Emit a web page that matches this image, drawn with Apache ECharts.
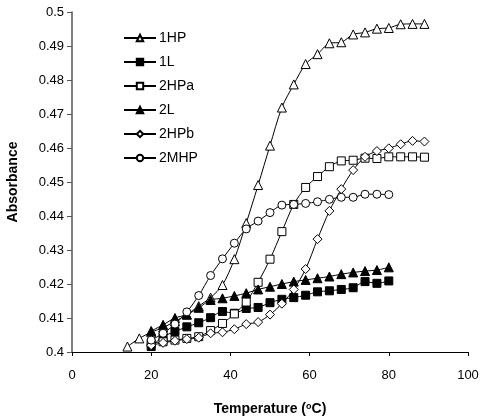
<!DOCTYPE html>
<html>
<head>
<meta charset="utf-8">
<script src="https://cdn.jsdelivr.net/npm/echarts@6/dist/echarts.min.js"></script>
<style>html,body{margin:0;padding:0;background:#fff}#c{width:482px;height:416px}</style>
</head>
<body>
<div id="c"></div>
<script>
// Temperatures (°C)
const temps1HP = [14,17,20,23,26,29,32,35,38,41,44,47,50,53,56,59,62,65,68,71,74,77,80,83,86,89];
const temps1L = [20,23,26,29,32,35,38,41,44,47,50,53,56,59,62,65,68,71,74,77,80];
const temps2HPa = [20,23,26,29,32,35,38,41,44,47,50,53,56,59,62,65,68,71,74,77,80,83,86,89];
const temps2L = [20,23,26,29,32,35,38,41,44,47,50,53,56,59,62,65,68,71,74,77,80];
const temps2HPb = [20,23,26,29,32,35,38,41,44,47,50,53,56,59,62,65,68,71,74,77,80,83,86,89];
const temps2MHP = [20,23,26,29,32,35,38,41,44,47,50,53,56,59,62,65,68,71,74,77,80];

// Absorbance values
const abs1HP = [0.4016,0.4040,0.4058,0.4072,0.4090,0.4110,0.4135,0.4160,0.4197,0.4273,0.4379,0.4491,0.4607,0.4719,0.4787,0.4847,0.4876,0.4908,0.4911,0.4934,0.4940,0.4951,0.4953,0.4964,0.4965,0.4965];
const abs1L = [0.4016,0.4045,0.4060,0.4074,0.4086,0.4101,0.4119,0.4114,0.4128,0.4131,0.4145,0.4155,0.4160,0.4167,0.4177,0.4180,0.4184,0.4189,0.4207,0.4202,0.4209];
const abs2HPa = [0.4025,0.4030,0.4035,0.4040,0.4045,0.4063,0.4084,0.4112,0.4147,0.4205,0.4273,0.4354,0.4434,0.4484,0.4516,0.4545,0.4562,0.4564,0.4570,0.4569,0.4574,0.4574,0.4574,0.4573];
const abs2L = [0.4062,0.4080,0.4100,0.4110,0.4130,0.4153,0.4158,0.4165,0.4173,0.4184,0.4192,0.4200,0.4207,0.4212,0.4217,0.4222,0.4229,0.4234,0.4238,0.4241,0.4249];
const abs2HPb = [0.4020,0.4027,0.4033,0.4038,0.4042,0.4055,0.4058,0.4067,0.4082,0.4088,0.4110,0.4142,0.4184,0.4244,0.4332,0.4415,0.4479,0.4535,0.4574,0.4591,0.4599,0.4611,0.4621,0.4619];
const abs2MHP = [0.4035,0.4055,0.4082,0.4118,0.4166,0.4225,0.4274,0.4320,0.4362,0.4385,0.4410,0.4432,0.4434,0.4437,0.4442,0.4449,0.4455,0.4455,0.4464,0.4464,0.4463];

const xTicks = [0,20,40,60,80,100];
const yTicks = [0.4,0.41,0.42,0.43,0.44,0.45,0.46,0.47,0.48,0.49,0.5];

function pairs(xs, ys){ return xs.map((x,i)=>[x, ys[i]]); }

const FONT = 'Liberation Sans';
function mk(name, xs, ys, symbol, filled){
  return {
    name: name, type: 'line', data: pairs(xs, ys),
    symbol: symbol, symbolSize: symbol === 'triangle' ? 9 : (symbol === 'diamond' ? 9 : 8),
    smooth: 0.3,
    lineStyle: {color: '#000', width: 1},
    itemStyle: {color: filled ? '#000' : '#fff', borderColor: '#000', borderWidth: 1},
    emphasis: {disabled: true},
    z: 2
  };
}

const chart = echarts.init(document.getElementById('c'), null, {renderer: 'canvas'});
chart.setOption({
  animation: false,
  backgroundColor: '#fff',
  textStyle: {fontFamily: FONT},
  grid: {left: 72, right: 14, top: 12, bottom: 64, containLabel: false, outerBoundsMode: 'none'},
  legend: {
    orient: 'vertical', left: 123, top: 30, padding: 0, itemWidth: 32, itemHeight: 8, itemGap: 8,
    textStyle: {fontFamily: FONT, fontSize: 14, color: '#000', padding: [0,0,0,-2], lineHeight: 16},
    data: ['1HP','1L','2HPa','2L','2HPb','2MHP']
  },
  xAxis: {
    type: 'value', min: 0, max: 100, interval: 20,
    name: 'Temperature ({s|o}C)', nameLocation: 'middle', nameGap: 50,
    nameTextStyle: {fontFamily: FONT, fontSize: 14, fontWeight: 'bold', color: '#000',
      rich: {s: {fontSize: 9, fontWeight: 'bold', verticalAlign: 'top', padding: [0,0,6,0], fontFamily: FONT}}},
    axisLine: {show: true, lineStyle: {color: '#000', width: 1}},
    axisTick: {show: true, length: 4, lineStyle: {color: '#000'}},
    axisLabel: {fontFamily: FONT, fontSize: 13, color: '#000', margin: 17},
    splitLine: {show: false}
  },
  yAxis: {
    type: 'value', min: 0.4, max: 0.5, interval: 0.01,
    name: 'Absorbance', nameLocation: 'middle', nameGap: 52, nameRotate: 90,
    nameTextStyle: {fontFamily: FONT, fontSize: 14, fontWeight: 'bold', color: '#000'},
    axisLine: {show: true, lineStyle: {color: '#555', width: 1.5}},
    axisTick: {show: true, length: 5, lineStyle: {color: '#555'}},
    axisLabel: {fontFamily: FONT, fontSize: 13, color: '#000', margin: 8,
      formatter: v => String(+v.toFixed(2))},
    splitLine: {show: false}
  },
  series: [
    mk('1HP', temps1HP, abs1HP, 'triangle', false),
    mk('1L', temps1L, abs1L, 'rect', true),
    mk('2HPa', temps2HPa, abs2HPa, 'rect', false),
    mk('2L', temps2L, abs2L, 'triangle', true),
    mk('2HPb', temps2HPb, abs2HPb, 'diamond', false),
    mk('2MHP', temps2MHP, abs2MHP, 'circle', false)
  ]
});
</script>
</body>
</html>
